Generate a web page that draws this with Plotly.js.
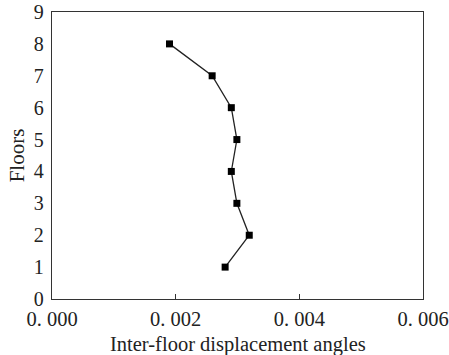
<!DOCTYPE html>
<html>
<head>
<meta charset="utf-8">
<script src="https://cdn.plot.ly/plotly-3.0.1.min.js"></script>
<style>html,body{margin:0;padding:0;background:#fff;}#chart{width:449px;height:355px;}</style>
</head>
<body>
<div id="chart"></div>
<script>
const floors = [1, 2, 3, 4, 5, 6, 7, 8];
const angles = [0.0028, 0.00319, 0.00299, 0.0029, 0.00299, 0.0029, 0.00259, 0.0019];
const xTickVals = [0, 0.002, 0.004, 0.006];
const xTickText = ['0. 000', '0. 002', '0. 004', '0. 006'];
const yTickVals = [0, 1, 2, 3, 4, 5, 6, 7, 8, 9];
const xTitle = 'Inter-floor displacement angles';
const yTitle = 'Floors';

const font = {family: '"Liberation Serif", "Times New Roman", serif', color: '#222'};
const f = s => Object.assign({size: s}, font);

Plotly.newPlot('chart', [{
  x: angles,
  y: floors,
  type: 'scatter',
  mode: 'lines+markers',
  line: {color: '#222', width: 1.3},
  marker: {symbol: 'square', size: 7, color: '#000'},
  showlegend: false
}], {
  width: 449, height: 355,
  margin: {l: 52, r: 26, t: 12, b: 56},
  paper_bgcolor: '#fff', plot_bgcolor: '#fff',
  font: f(20),
  xaxis: {
    range: [0, 0.006], tickvals: xTickVals, ticktext: xTickText,
    ticks: 'inside', ticklen: 5, tickcolor: '#333', tickwidth: 1,
    showline: true, linecolor: '#333', linewidth: 1.3, mirror: true,
    showgrid: false, zeroline: false,
    tickfont: f(20.5), ticklabelstandoff: 1, ticklabeloverflow: 'allow'
  },
  yaxis: {
    range: [0, 9], tickvals: yTickVals,
    ticks: 'inside', ticklen: 0, tickcolor: '#333',
    showline: true, linecolor: '#333', linewidth: 1.3, mirror: true,
    showgrid: false, zeroline: false,
    tickfont: f(20), ticklabelstandoff: 3, ticklabeloverflow: 'allow',
    title: {text: yTitle, font: f(21), standoff: 3}
  },
  annotations: [{
    text: xTitle, xref: 'paper', yref: 'paper', x: 0.5, y: 0,
    xanchor: 'center', yanchor: 'middle', yshift: -45, showarrow: false,
    font: f(20.5)
  }]
}, {staticPlot: true});
</script>
</body>
</html>
